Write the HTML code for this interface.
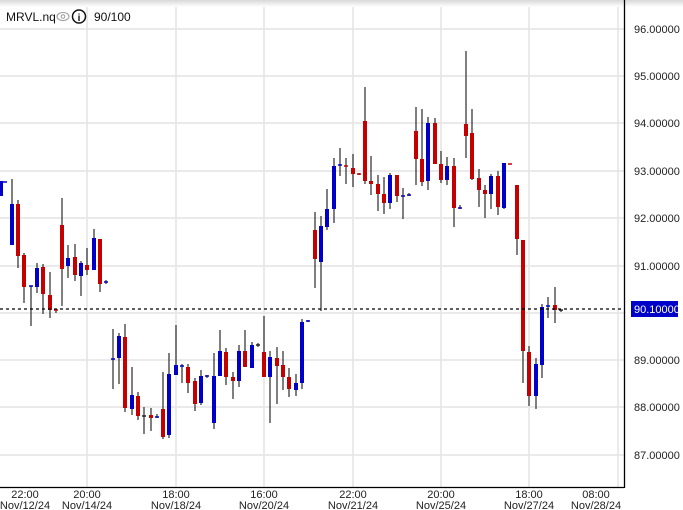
<!DOCTYPE html>
<html><head><meta charset="utf-8"><style>
html,body{margin:0;padding:0;background:#fff;width:683px;height:510px;overflow:hidden}
svg{display:block}
text{font-family:"Liberation Sans",Arial,sans-serif}
</style></head><body>
<svg id="s" width="683" height="510" xmlns="http://www.w3.org/2000/svg">
<defs><linearGradient id="g" x1="0" y1="0" x2="0" y2="1"><stop offset="0" stop-color="#d8d8d8"/><stop offset="1" stop-color="#fff"/></linearGradient></defs>
<rect x="0" y="0" width="683" height="510" fill="#fff"/>
<g id="grid" stroke="#e4e4e4" stroke-width="1.5"></g>
<rect x="0" y="0" width="683" height="7" fill="url(#g)"/>
<g id="c"></g>
<line x1="0" y1="309" x2="624" y2="309" stroke="#000" stroke-width="1.2" stroke-dasharray="3,3"/>
<line x1="624.5" y1="0" x2="624.5" y2="488" stroke="#000" stroke-width="1.3"/>
<line x1="0" y1="487.5" x2="624" y2="487.5" stroke="#000" stroke-width="1.3"/>
<g font-size="11" fill="#222" id="yl"></g>
<rect x="631" y="301" width="47" height="16" fill="#0000c8"/>
<text x="634" y="313" font-size="11" fill="#fff">90.10000</text>
<g font-size="11" fill="#222" text-anchor="middle" id="xl"></g>
<text x="6" y="21" font-size="12" fill="#111">MRVL.nq</text>
<ellipse cx="63" cy="16.5" rx="6" ry="4" fill="none" stroke="#999" stroke-width="1"/>
<circle cx="63" cy="16.5" r="1.8" fill="none" stroke="#999" stroke-width="1"/>
<circle cx="79" cy="16.5" r="6.5" fill="none" stroke="#111" stroke-width="1.5"/>
<text x="79" y="21" font-size="10" font-weight="bold" text-anchor="middle" fill="#111">i</text>
<text x="94" y="21" font-size="12" fill="#111">90/100</text>
</svg>
<script>
var ns="http://www.w3.org/2000/svg";
function el(p,t,a,txt){var e=document.createElementNS(ns,t);for(var k in a)e.setAttribute(k,a[k]);if(txt)e.textContent=txt;p.appendChild(e);return e;}
var g=document.getElementById('grid');
[87,176,264,353,441,529,618].forEach(function(x){el(g,'line',{x1:x,y1:7,x2:x,y2:487});});
var ys=[29,76,123,171,218,266,313,360,407,455];
ys.forEach(function(y){el(g,'line',{x1:0,y1:y,x2:624,y2:y});});
var yl=document.getElementById('yl');
var pv=[96,95,94,93,92,91,90,89,88,87];
ys.forEach(function(y,i){if(pv[i]==90)return;el(yl,'text',{x:634,y:y+4},pv[i].toFixed(5));});
var xl=document.getElementById('xl');
[[25,'22:00','Nov/12/24'],[87,'20:00','Nov/14/24'],[176,'18:00','Nov/18/24'],[264,'16:00','Nov/20/24'],[353,'22:00','Nov/21/24'],[441,'20:00','Nov/25/24'],[529,'18:00','Nov/27/24'],[596,'08:00','Nov/28/24']].forEach(function(a){el(xl,'text',{x:a[0],y:498},a[1]);el(xl,'text',{x:a[0],y:509},a[2]);});
// x, bodyTop, bodyBot, wickTop, wickBot, color
var R='#c40000',B='#0000c8',K='#222';
var d=[
[1,181,196,181,196,B],[5,182,182,182,182,B],
[12,204,245,179,245,B],[18,204,256,200,268,R],[24,255,287,253,303,R],[31,286,286,286,326,B],[37,268,287,263,293,B],[43,267,294,264,314,R],[50,295,310,272,318,R],[56,310,310,309,313,R],[62,225,269,198,306,R],[68,258,266,245,278,B],[75,257,275,244,281,R],[81,263,276,261,296,B],[87,265,270,248,275,R],[94,238,270,229,270,B],[100,239,284,239,292,R],[106,282,282,280,284,B],
[113,359,359,329,389,B],[119,336,358,333,384,B],[125,337,408,324,412,R],[132,395,409,367,415,B],[138,396,416,392,420,R],[144,416,416,407,434,K],[151,415,418,408,431,R],[157,417,417,414,418,B],[163,409,437,372,439,R],[169,374,435,353,438,B],[176,365,375,325,375,B],[182,366,366,364,383,B],[188,367,383,364,393,R],[195,381,404,378,411,R],[201,376,403,370,405,B],[207,376,376,375,378,B],[214,376,423,353,429,B],[220,351,376,330,376,B],[226,352,377,348,385,R],[233,377,381,372,399,R],[239,351,381,345,387,B],[245,351,367,330,367,R],[252,345,368,342,368,B],[258,345,345,343,347,K],[264,352,377,316,377,R],[270,357,377,351,423,B],[277,358,366,347,404,R],[283,365,377,351,390,R],[289,377,389,368,397,R],[296,383,390,374,396,B],[302,322,383,319,389,B],[308,321,321,320,322,B],
[315,230,259,212,288,R],[321,226,262,216,311,B],[327,209,227,189,230,B],[334,166,209,158,223,B],[340,165,165,148,176,B],[346,166,166,158,184,R],[353,168,174,154,187,R],[359,174,174,173,175,R],[365,121,181,87,184,R],[371,181,184,156,195,R],[378,184,194,175,211,R],[384,194,203,177,214,R],[390,175,203,173,209,B],[397,175,196,175,202,R],[403,196,196,188,219,B],[409,195,195,193,196,B],[416,131,159,107,185,R],[422,159,182,109,186,R],[428,123,181,117,190,B],[435,123,164,118,164,R],[441,164,180,151,183,R],[447,166,180,157,185,B],[454,166,208,158,227,R],[460,208,208,205,209,B],[466,124,136,51,158,R],[472,133,179,109,180,R],[479,178,190,169,207,R],[485,190,194,185,218,R],[491,176,194,174,209,B],[498,176,207,171,215,R],[504,163,208,163,209,B],[510,164,164,164,164,R],[517,185,239,185,255,R],[523,240,351,240,383,R],[529,352,396,346,406,R],[536,364,396,358,409,B],[542,307,365,304,378,B],[548,306,306,297,318,B],[555,305,310,287,323,R],[561,310,310,310,312,K]
];
var c=document.getElementById('c');
d.forEach(function(a){
 el(c,'line',{x1:a[0],y1:a[3],x2:a[0],y2:a[4],stroke:'#2a2a2a','stroke-width':1.2});
 var h=Math.max(a[2]-a[1],1.5);
 el(c,'rect',{x:a[0]-2,y:a[1]-(a[2]==a[1]?0.75:0),width:4,height:h,fill:a[5]});
});
</script>
</body></html>
